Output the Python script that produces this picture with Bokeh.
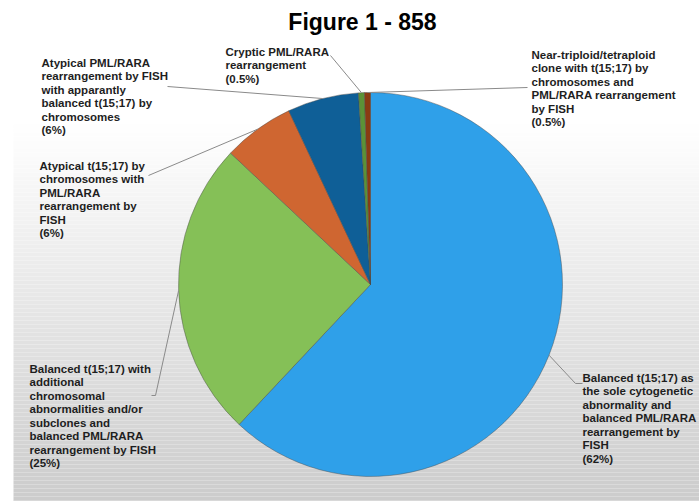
import numpy as np
from bokeh.plotting import figure
from bokeh.models import Range1d
from bokeh.core.properties import value
from bokeh.embed import file_html
from bokeh.resources import INLINE

title_text = "Figure 1 - 858"
categories = [
    "Balanced t(15;17) as\nthe sole cytogenetic\nabnormality and\nbalanced PML/RARA\nrearrangement by\nFISH",
    "Balanced t(15;17) with\nadditional\nchromosomal\nabnormalities and/or\nsubclones and\nbalanced PML/RARA\nrearrangement by FISH",
    "Atypical t(15;17) by\nchromosomes with\nPML/RARA\nrearrangement by\nFISH",
    "Atypical PML/RARA\nrearrangement by FISH\nwith apparantly\nbalanced t(15;17) by\nchromosomes",
    "Cryptic PML/RARA\nrearrangement",
    "Near-triploid/tetraploid\nclone with t(15;17) by\nchromosomes and\nPML/RARA rearrangement\nby FISH",
]
percents = [62, 25, 6, 6, 0.5, 0.5]
pct_labels = ["(62%)", "(25%)", "(6%)", "(6%)", "(0.5%)", "(0.5%)"]
colors = ["#2FA0E9", "#85C057", "#CF6631", "#0F5F97", "#5B9237", "#8A3B12"]

W, H = 699, 501
def sx(x):
    return x
def sy(y):
    return H - y

p = figure(width=W, height=H, x_range=Range1d(0, W), y_range=Range1d(0, H),
           output_backend="svg", toolbar_location=None, min_border=0,
           x_axis_location=None, y_axis_location=None)
p.grid.visible = False
p.outline_line_color = None
p.background_fill_color = "white"
p.border_fill_color = "white"

# background gradient (decoration)
ys = np.arange(120, 505, 4)
tops, bots, cols = [], [], []
for y in ys:
    g = int(round(255 - max(0, y - 120) * 0.135))
    tops.append(sy(y))
    bots.append(sy(y + 4))
    cols.append("#%02x%02x%02x" % (g, g, g))
p.quad(left=sx(13), right=W, top=tops, bottom=bots, fill_color=cols, line_color=None)

# pie
cx, cy, r = sx(370), sy(284), 192
vals = np.array(percents, dtype=float)
frac = vals / vals.sum()
cum = np.cumsum(frac)
start = np.pi / 2 - 2 * np.pi * (cum - frac)
end = np.pi / 2 - 2 * np.pi * cum
p.wedge(x=cx, y=cy, radius=r, start_angle=list(start), end_angle=list(end),
        direction="clock", fill_color=colors, line_color="#4a4a4a",
        line_alpha=0.55, line_width=0.8)

# leader lines: from slice midpoint on the rim to label anchor
mid = np.pi / 2 - 2 * np.pi * (cum - frac / 2)
anchors = [
    [(575, 383), (582, 383)],
    [(155, 395), (151, 395)],
    [(148, 175)],
    [(167, 86)],
    [(330, 55)],
    [(527, 87)],
]
xs_l, ys_l = [], []
for a, pts in zip(mid, anchors):
    ex, ey = cx + r * np.cos(a), cy + r * np.sin(a)
    xs_l.append([ex] + [sx(px) for px, _ in pts])
    ys_l.append([ey] + [sy(py) for _, py in pts])
p.multi_line(xs=xs_l, ys=ys_l, line_color="#8a8a8a", line_width=1)

# labels
label_pos = [(582, 371), (29, 362), (39, 159), (41, 56), (225, 45), (531, 48)]
texts = [c + "\n" + pl for c, pl in zip(categories, pct_labels)]
p.text(x=[sx(x) for x, _ in label_pos], y=[sy(y) for _, y in label_pos], text=texts,
       text_font=value("Liberation Sans"), text_font_style="bold",
       text_font_size="11.5px", text_color="#1e1e1e", text_align="left",
       text_baseline="top", text_line_height=1.13)

# title
p.text(x=[sx(362)], y=[sy(21)], text=[title_text], text_font=value("Liberation Sans"),
       text_font_style="bold", text_font_size="23px", text_color="#000000",
       text_align="center", text_baseline="middle")

open("out.html", "w").write(file_html(p, INLINE))
